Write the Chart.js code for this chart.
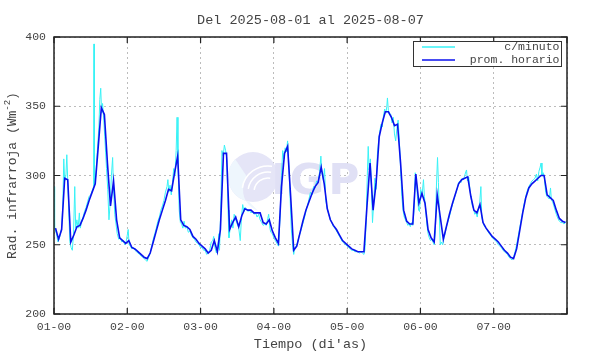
<!DOCTYPE html>
<html>
<head>
<meta charset="utf-8">
<script src="https://cdn.jsdelivr.net/npm/chart.js@4"></script>
<style>
  html, body { margin: 0; padding: 0; background: #fff; }
</style>
</head>
<body>
<canvas id="chart" width="590" height="354"></canvas>
<script>
// textos y datos
const chartTitle = "Del 2025-08-01 al 2025-08-07";
const dayLabels = ["01-00", "02-00", "03-00", "04-00", "05-00", "06-00", "07-00"];
const yTicks = [200, 250, 300, 350, 400];

// promedio horario (una por hora, desde 01-00)
const hourlyValues = [
  262, 254, 261, 298, 297, 252, 257, 263, 264, 269, 275, 282, 288, 294, 321, 349, 344, 309, 278, 296, 268, 255, 253, 251,
  253, 248, 247, 245, 243, 241, 240, 244, 252, 260, 268, 275, 282, 290, 289, 302, 314, 268, 264, 263, 261, 256, 254, 251,
  249, 247, 244, 246, 253, 245, 261, 316, 316, 261, 266, 270, 263, 271, 276, 275, 275, 273, 273, 273, 266, 265, 268, 260,
  255, 251, 292, 316, 321, 285, 246, 249, 258, 267, 275, 281, 287, 292, 295, 306, 294, 276, 268, 264, 261, 257, 253, 251,
  249, 247, 246, 245, 245, 245, 278, 309, 275, 295, 328, 338, 346, 346, 342, 336, 337, 309, 275, 267, 265, 265, 301, 280,
  287, 280, 261, 255, 252, 286, 270, 254, 263, 272, 280, 287, 294, 297, 298, 299, 285, 275, 273, 279, 266, 262, 259, 256,
  254, 252, 249, 246, 244, 241, 240, 247, 260, 273, 284, 291, 294, 296, 298, 300, 300, 286, 284, 282, 275, 269, 267, 266,
];

// datos por minuto (hora, valor)
const minuteData = [
  [0.0, 292], [0.2, 262], [0.8, 258], [1.3, 252], [1.8, 255], [2.5, 262], [2.9, 280], [3.2, 312], [3.5, 296], [3.9, 300],
  [4.2, 315], [4.5, 296], [4.9, 270], [5.2, 252], [5.6, 248], [6.0, 246], [6.4, 258], [6.8, 292], [7.1, 262], [7.5, 268],
  [7.9, 262], [8.3, 273], [8.6, 262], [9.0, 266], [9.5, 270], [10, 274], [10.5, 277], [11, 281], [11.5, 285], [12, 286],
  [12.5, 289], [13.0, 292], [13.1, 395], [13.2, 292], [13.7, 300], [14.2, 318], [14.7, 335], [15.0, 355], [15.3, 363], [15.6, 345],
  [15.9, 352], [16.3, 340], [16.7, 325], [17.2, 305], [17.6, 290], [18.0, 268], [18.4, 280], [18.8, 300], [19.2, 313], [19.5, 290],
  [19.9, 272], [20.3, 265], [20.7, 258], [21.2, 254], [21.7, 255], [22.2, 252], [22.7, 253], [23.2, 250], [23.6, 252], [24.0, 257],
  [24.3, 261], [24.6, 250], [25.0, 249], [25.5, 247], [26, 248], [26.5, 246], [27, 245], [27.5, 244], [28, 243], [28.5, 242],
  [29, 241], [29.5, 240], [30, 239], [30.5, 238], [31, 241], [31.5, 244], [32, 249], [32.5, 254], [33, 258], [33.5, 262],
  [34, 267], [34.5, 270], [35, 275], [35.5, 278], [36, 282], [36.5, 288], [37, 292], [37.3, 297], [37.6, 288], [38, 293],
  [38.4, 286], [38.8, 295], [39.2, 305], [39.6, 300], [40, 318], [40.3, 342], [40.6, 310], [41.0, 275], [41.4, 266], [41.8, 265],
  [42.2, 262], [42.6, 267], [43, 262], [43.5, 263], [44, 259], [44.5, 260], [45, 257], [45.5, 255], [46, 254], [46.5, 252],
  [47, 251], [47.5, 250], [48, 248], [48.5, 248], [49, 246], [49.5, 246], [50, 243], [50.5, 244], [51, 246], [51.5, 252],
  [52, 253], [52.3, 256], [52.7, 248], [53.2, 244], [53.6, 247], [54.0, 258], [54.2, 246], [54.6, 275], [55, 318], [55.4, 314],
  [55.8, 322], [56.2, 318], [56.6, 312], [57.0, 275], [57.3, 255], [57.7, 262], [58.2, 268], [58.6, 262], [59, 272], [59.5, 268],
  [60, 265], [60.5, 262], [61, 253], [61.4, 270], [61.8, 279], [62.2, 274], [62.6, 277], [63, 276], [63.5, 274], [64, 275],
  [64.5, 273], [65, 274], [65.5, 272], [66, 273], [66.5, 270], [67, 272], [67.5, 268], [68, 266], [68.5, 264], [69, 265],
  [69.5, 264], [70, 269], [70.3, 272], [70.7, 262], [71, 259], [71.5, 258], [72, 255], [72.5, 253], [73, 251], [73.5, 249],
  [74, 268], [74.5, 300], [74.9, 318], [75.3, 312], [75.7, 320], [76.1, 317], [76.5, 325], [76.9, 308], [77.3, 285], [77.7, 262],
  [78.2, 248], [78.5, 243], [78.9, 248], [79.3, 249], [79.8, 252], [80.2, 256], [80.7, 259], [81.2, 263], [81.7, 267], [82.2, 271],
  [82.7, 276], [83.1, 279], [83.5, 283], [84, 288], [84.5, 286], [85, 292], [85.5, 291], [86, 296], [86.5, 295], [87, 303],
  [87.4, 314], [87.7, 302], [88.2, 297], [88.6, 305], [89, 282], [89.5, 276], [90, 272], [90.5, 268], [91, 266], [91.5, 263],
  [92, 262], [92.5, 260], [93, 258], [93.5, 256], [94, 254], [94.5, 252], [95, 251], [95.5, 250], [96, 249], [96.5, 248],
  [97, 247], [97.5, 246], [98, 246], [98.5, 245], [99, 245], [99.5, 245], [100, 244], [100.5, 245], [101, 244], [101.5, 243],
  [101.8, 246], [102.2, 265], [102.6, 300], [102.9, 321], [103.2, 304], [103.6, 312], [104, 290], [104.3, 266], [104.7, 280], [105.1, 298],
  [105.5, 290], [105.9, 315], [106.3, 325], [106.7, 332], [107.1, 337], [107.5, 335], [107.9, 343], [108.3, 348], [108.7, 345], [109.0, 350],
  [109.2, 356], [109.5, 347], [109.9, 345], [110.3, 344], [110.7, 338], [111.1, 342], [111.5, 330], [111.9, 325], [112.3, 334], [112.7, 340],
  [113.1, 325], [113.5, 305], [113.9, 285], [114.3, 275], [114.7, 270], [115.1, 268], [115.5, 266], [115.9, 264], [116.3, 265], [116.7, 263],
  [117.1, 266], [117.5, 264], [117.9, 275], [118.3, 302], [118.6, 298], [119.0, 285], [119.4, 275], [119.7, 274], [120.1, 290], [120.5, 285],
  [121.0, 297], [121.3, 285], [121.7, 276], [122.1, 265], [122.5, 258], [122.9, 255], [123.3, 253], [123.7, 254], [124.1, 252], [124.5, 250],
  [124.9, 260], [125.2, 290], [125.6, 313], [125.9, 295], [126.2, 270], [126.5, 250], [126.9, 252], [127.3, 250], [127.7, 255], [128.1, 258],
  [128.5, 263], [128.9, 266], [129.3, 269], [129.7, 272], [130.1, 276], [130.5, 279], [130.9, 282], [131.3, 285], [131.7, 288], [132.1, 291],
  [132.5, 295], [132.9, 296], [133.3, 295], [133.7, 298], [134.1, 297], [134.5, 300], [134.9, 303], [135.1, 304], [135.4, 296], [135.8, 299],
  [136.2, 290], [136.6, 284], [137, 278], [137.4, 276], [137.8, 272], [138.2, 273], [138.6, 270], [139, 276], [139.4, 280], [139.8, 292],
  [140.1, 270], [140.5, 266], [141, 263], [141.5, 262], [142, 260], [142.5, 258], [143, 257], [143.5, 255], [144, 254], [144.5, 253],
  [145, 252], [145.5, 250], [146, 249], [146.5, 248], [147, 246], [147.5, 245], [148, 244], [148.5, 243], [149, 241], [149.5, 240],
  [150, 239], [150.5, 241], [151, 245], [151.5, 250], [152, 256], [152.5, 262], [153, 268], [153.5, 274], [154, 280], [154.5, 285],
  [155, 289], [155.5, 292], [156, 294], [156.5, 296], [157, 297], [157.5, 298], [158, 301], [158.4, 296], [158.8, 303], [159.2, 306],
  [159.5, 309], [159.8, 300], [160.2, 302], [160.6, 298], [161, 288], [161.4, 285], [161.8, 284], [162.2, 283], [162.6, 291], [162.9, 282],
  [163.3, 281], [163.7, 278], [164.1, 275], [164.5, 272], [165, 269], [165.5, 267], [166, 266], [166.5, 266], [167, 265], [167.5, 266],
  [167.9, 267],
];

const MONO = "'Liberation Mono', 'DejaVu Sans Mono', monospace";
const INK = "#444";

// logo de fondo (marca de agua)
const watermark = {
  id: "watermark",
  beforeDatasetsDraw(chart) {
    const { ctx } = chart;
    ctx.save();
    ctx.fillStyle = "#e5e5f7";
    ctx.beginPath();
    ctx.arc(253, 177, 25, 0, Math.PI * 2);
    ctx.fill();
    ctx.fillStyle = "#eef6fd";
    ctx.beginPath();
    ctx.arc(253, 177, 25, Math.PI * 0.55, Math.PI * 1.25);
    ctx.arc(265, 190, 22, Math.PI * 1.2, Math.PI * 0.6, true);
    ctx.fill();
    ctx.strokeStyle = "#ffffff";
    ctx.lineWidth = 1.5;
    [14, 20, 26].forEach((r) => {
      ctx.beginPath();
      ctx.arc(268, 192, r, Math.PI * 1.05, Math.PI * 1.55);
      ctx.stroke();
    });
    ctx.fillStyle = "#e0e0f5";
    ctx.font = "bold 42px 'DejaVu Sans', sans-serif";
    ctx.textBaseline = "alphabetic";
    ctx.textAlign = "center";
    ctx.fillText("I", 279, 194);
    ctx.fillText("G", 307, 194);
    ctx.fillText("P", 344, 194);
    ctx.restore();
  },
};

// marco, marcas interiores, titulo del eje y, leyenda
const frame = {
  id: "frame",
  afterDraw(chart) {
    const { ctx, chartArea: a, scales } = chart;
    ctx.save();
    ctx.strokeStyle = "#222";
    ctx.lineWidth = 1.5;
    ctx.strokeRect(a.left, a.top, a.right - a.left, a.bottom - a.top);

    ctx.lineWidth = 1.2;
    ctx.beginPath();
    scales.x.ticks.forEach((t) => {
      const px = scales.x.getPixelForValue(t.value);
      ctx.moveTo(px, a.top); ctx.lineTo(px, a.top + 6);
      ctx.moveTo(px, a.bottom); ctx.lineTo(px, a.bottom - 6);
    });
    scales.y.ticks.forEach((t) => {
      const py = scales.y.getPixelForValue(t.value);
      ctx.moveTo(a.left, py); ctx.lineTo(a.left + 6, py);
      ctx.moveTo(a.right, py); ctx.lineTo(a.right - 6, py);
    });
    ctx.stroke();

    // titulo eje y con superindice
    const main = "Rad. infrarroja (Wm";
    const sup = "-2";
    const end = ")";
    ctx.fillStyle = INK;
    ctx.font = "13px " + MONO;
    const w1 = ctx.measureText(main).width;
    const w3 = ctx.measureText(end).width;
    ctx.font = "9px " + MONO;
    const w2 = ctx.measureText(sup).width;
    const total = w1 + w2 + w3;
    ctx.translate(13, (a.top + a.bottom) / 2);
    ctx.rotate(-Math.PI / 2);
    ctx.textBaseline = "middle";
    ctx.textAlign = "left";
    let x = -total / 2;
    ctx.font = "13px " + MONO;
    ctx.fillText(main, x, 0);
    x += w1;
    ctx.font = "9px " + MONO;
    ctx.fillText(sup, x, -5);
    x += w2;
    ctx.font = "13px " + MONO;
    ctx.fillText(end, x, 0);
    ctx.restore();

    // leyenda
    ctx.save();
    const bx = 413.5, by = 41.5, bw = 148, bh = 25;
    ctx.fillStyle = "#fff";
    ctx.fillRect(bx, by, bw, bh);
    ctx.strokeStyle = "#333";
    ctx.lineWidth = 1;
    ctx.strokeRect(bx, by, bw, bh);
    ctx.font = "11.5px " + MONO;
    ctx.textAlign = "right";
    ctx.textBaseline = "middle";
    chart.data.datasets.forEach((ds, i) => {
      const ly = by + 5.5 + i * 13;
      ctx.strokeStyle = ds.borderColor;
      ctx.lineWidth = i === 0 ? 1.3 : ds.borderWidth;
      ctx.beginPath();
      ctx.moveTo(422, ly);
      ctx.lineTo(455, ly);
      ctx.stroke();
      ctx.fillStyle = INK;
      ctx.fillText(ds.label, bx + bw - 2, ly);
    });
    ctx.restore();
  },
};

const chart = document.querySelector("#chart").getContext("2d");

new Chart(chart, {
  type: "line",
  data: {
    datasets: [
      {
        label: "c/minuto",
        data: minuteData.map(([t, v]) => ({ x: t, y: v })),
        borderColor: "#38f2f6",
        borderWidth: 1,
        pointRadius: 0,
        tension: 0,
        order: 2,
      },
      {
        label: "prom. horario",
        data: hourlyValues.map((v, h) => ({ x: h + 0.5, y: v })),
        borderColor: "#0a10ee",
        borderWidth: 1.6,
        pointRadius: 0,
        tension: 0,
        order: 1,
      },
    ],
  },
  options: {
    responsive: false,
    animation: false,
    layout: { padding: { left: 0, right: 23, top: 0, bottom: 0 } },
    plugins: {
      legend: { display: false },
      tooltip: { enabled: false },
      title: {
        display: true,
        text: chartTitle,
        fullSize: false,
        color: INK,
        font: { family: MONO, size: 13.5, weight: "normal" },
        padding: { top: 12, bottom: 8.8 },
      },
    },
    scales: {
      x: {
        type: "linear",
        min: 0,
        max: 168,
        afterFit: (s) => { s.height = 40; },
        ticks: {
          stepSize: 24,
          autoSkip: false,
          maxRotation: 0,
          padding: 6,
          color: INK,
          font: { family: MONO, size: 11.5 },
          callback: (v) => dayLabels[v / 24] ?? "",
        },
        grid: { color: "#bcbcbc", lineWidth: 1, drawTicks: false },
        border: { display: false, dash: [2, 3] },
        title: {
          display: true,
          text: "Tiempo (di'as)",
          color: INK,
          font: { family: MONO, size: 13.5 },
          padding: { top: 0, bottom: 1 },
        },
      },
      y: {
        min: yTicks[0],
        max: yTicks[yTicks.length - 1],
        afterFit: (s) => { s.width = 54; },
        afterBuildTicks: (s) => { s.ticks = yTicks.map((v) => ({ value: v })); },
        ticks: {
          padding: 8,
          color: INK,
          font: { family: MONO, size: 11.5 },
        },
        grid: { color: "#bcbcbc", lineWidth: 1, drawTicks: false },
        border: { display: false, dash: [2, 3] },
      },
    },
  },
  plugins: [watermark, frame],
});
</script>
</body>
</html>
